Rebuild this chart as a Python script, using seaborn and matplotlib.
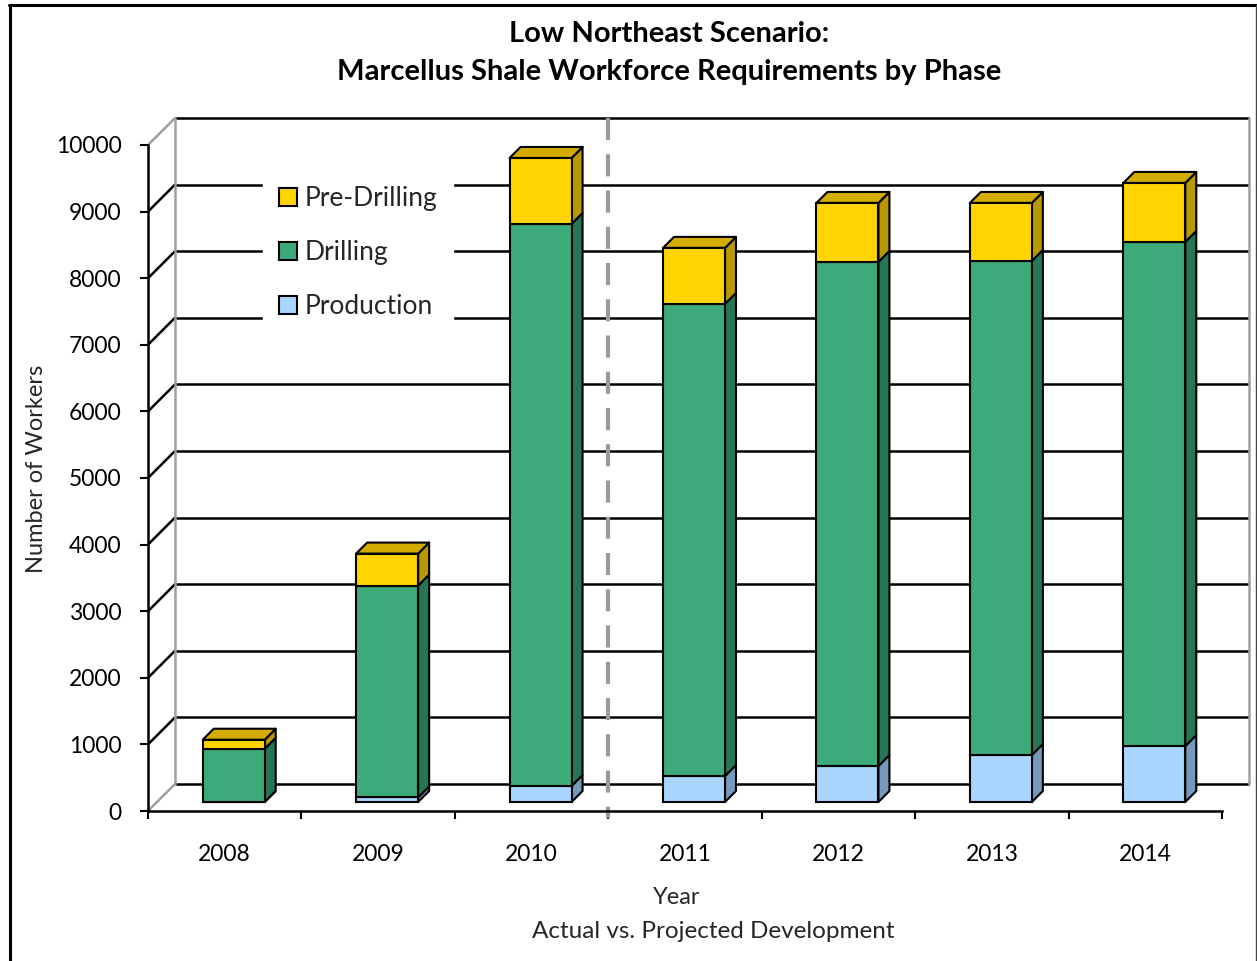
import numpy as np
import pandas as pd
import matplotlib
matplotlib.use("Agg")
import matplotlib.pyplot as plt
import seaborn as sns
from matplotlib.patches import Polygon, Patch
from matplotlib.lines import Line2D

# ---- data -------------------------------------------------------------
years = ["2008", "2009", "2010", "2011", "2012", "2013", "2014"]
production = [0, 70, 240, 390, 540, 705, 840]
drilling = [800, 3180, 8440, 7090, 7570, 7420, 7570]
pre_drilling = [135, 480, 990, 840, 885, 870, 885]
y_ticks = list(range(0, 10001, 1000))

legend_order = ["Pre-Drilling", "Drilling", "Production"]
stack_order = ["Production", "Drilling", "Pre-Drilling"]
front_colors = {"Pre-Drilling": "#FFD400", "Drilling": "#3DAA79", "Production": "#A9D5FF"}
side_colors = {"Pre-Drilling": "#B99700", "Drilling": "#267656", "Production": "#7599BA"}
top_color = "#D4AC00"
wall_gray = "#A0A0A0"

df = pd.DataFrame({"Year": years, "Production": production,
                   "Drilling": drilling, "Pre-Drilling": pre_drilling})

sns.set_theme(style="white")
plt.rcParams["font.family"] = ["Lato", "DejaVu Sans"]

W, H = 1257, 961
fig = plt.figure(figsize=(W / 100, H / 100), dpi=100)
fig.patch.set_facecolor("white")

# front plane: x=-0.5 sits at pixel 148, value 0 at pixel 811
px_left, px_zero, ppx, ppy = 148, 811, 153.43, 0.0666
xlim = (-0.5, 6.7)
ylim = (-250, 10500)
ax_l = px_left
ax_r = px_left + (xlim[1] - xlim[0]) * ppx
ax_b = px_zero - ylim[0] * ppy
ax_t = px_zero - ylim[1] * ppy
ax = fig.add_axes([ax_l / W, 1 - ax_b / H, (ax_r - ax_l) / W, (ax_b - ax_t) / H])
ax.set_facecolor("none")

# oblique projection offsets (data units)
DX, DY = 27 / ppx, 27 / ppy          # full depth of the chart box
FDX, FDY = 9 / ppx, 9 / ppy          # bar front plane
SDX, SDY = 11 / ppx, 11 / ppy        # bar depth
x_front_l, x_front_r = -0.5, 6.5

# back wall gridlines
for v in y_ticks:
    ax.plot([x_front_l + DX, x_front_r + DX], [v + DY, v + DY],
            color="black", lw=1.8, zorder=1, solid_capstyle="butt")
# left wall diagonals
for v in y_ticks:
    c = wall_gray if v in (0, 10000) else "black"
    ax.plot([x_front_l, x_front_l + DX], [v, v + DY], color=c, lw=1.8, zorder=1)
# back wall vertical edges
for xe in (x_front_l + DX, x_front_r + DX):
    ax.plot([xe, xe], [DY, y_ticks[-1] + DY], color=wall_gray, lw=1.8, zorder=1)

# dashed divider between actual and projected years
ax.plot([2.5, 2.5], [y_ticks[-1] + DY, -105], color="#9A9A9A", lw=3,
        dashes=(5.3, 3.4), zorder=2, solid_capstyle="butt")

# ---- stacked bars (front faces via seaborn) ---------------------------
bar_width = 0.404
cum = np.zeros(len(years))
segments = {}
for name in stack_order:
    vals = df[name].to_numpy(dtype=float)
    before = len(ax.patches)
    sns.barplot(data=df, x="Year", y=name, bottom=cum + FDY, color=front_colors[name],
                saturation=1, width=bar_width, errorbar=None, edgecolor="black",
                linewidth=1.5, zorder=4, ax=ax)
    bars = ax.patches[before:]
    for p in bars:
        p.set_x(p.get_x() + FDX)
    segments[name] = bars
    cum = cum + vals

# side and top faces
for name in stack_order:
    for p in segments[name]:
        x0 = p.get_x()
        x1 = x0 + p.get_width()
        b = p.get_y()
        t = b + p.get_height()
        side = Polygon([(x1, b), (x1 + SDX, b + SDY), (x1 + SDX, t + SDY), (x1, t)],
                       closed=True, facecolor=side_colors[name], edgecolor="black",
                       lw=1.5, zorder=3, joinstyle="round")
        ax.add_patch(side)
        if name == stack_order[-1]:
            top = Polygon([(x0, t), (x1, t), (x1 + SDX, t + SDY), (x0 + SDX, t + SDY)],
                          closed=True, facecolor=top_color, edgecolor="black",
                          lw=1.5, zorder=3, joinstyle="round")
            ax.add_patch(top)

# ---- axes ------------------------------------------------------------
ax.set_xlim(*xlim)
ax.set_ylim(*ylim)
for s in ("top", "right"):
    ax.spines[s].set_visible(False)
ax.spines["left"].set_bounds(0, y_ticks[-1])
ax.spines["left"].set_color("black")
ax.spines["left"].set_linewidth(1.8)
ax.spines["bottom"].set_position(("data", 0))
ax.spines["bottom"].set_bounds(x_front_l, x_front_r)
ax.spines["bottom"].set_color("black")
ax.spines["bottom"].set_linewidth(1.8)

ax.set_yticks(y_ticks, labels=[str(v) for v in y_ticks])
ax.tick_params(axis="y", direction="out", length=6, width=1.5, color="black",
               left=True, labelsize=16.5, pad=13, labelcolor="black")
ax.set_xticks(np.arange(-0.5, len(years), 1.0), labels=[""] * (len(years) + 1))
ax.set_xticks(np.arange(len(years)), labels=years, minor=True)
ax.tick_params(axis="x", which="major", direction="out", length=6, width=1.5,
               color="black", bottom=True)
ax.tick_params(axis="x", which="minor", length=0, labelsize=16.5, pad=24,
               labelcolor="black")
ax.set_xlabel("")
ax.set_ylabel("")
ax.grid(False)

# ---- legend ----------------------------------------------------------
handles = [Patch(facecolor=front_colors[s], edgecolor="black", linewidth=1.5)
           for s in legend_order]
leg = ax.legend(handles, legend_order, loc="upper left",
                bbox_to_anchor=(263 / W, 1 - 170.5 / H), bbox_transform=fig.transFigure,
                fontsize=19, frameon=True, framealpha=1, facecolor="white",
                edgecolor="white", borderpad=0.6, borderaxespad=0,
                handlelength=0.68, handleheight=0.67, handletextpad=0.3,
                labelspacing=1.09, fancybox=False)
leg.set_zorder(6)

# ---- titles and labels ----------------------------------------------
fig.text(669 / W, 1 - 34 / H, "Low Northeast Scenario:", ha="center", va="center",
         fontsize=21, fontweight="bold", color="black")
fig.text(669 / W, 1 - 72 / H, "Marcellus Shale Workforce Requirements by Phase",
         ha="center", va="center", fontsize=21, fontweight="bold", color="black")
fig.text(677 / W, 1 - 897 / H, "Year", ha="center", va="center", fontsize=17)
fig.text(713 / W, 1 - 932 / H, "Actual vs. Projected Development", ha="center",
         va="center", fontsize=17.5)
fig.text(37 / W, 1 - 469 / H, "Number of Workers", ha="center", va="center",
         rotation=90, fontsize=17)

# outer frame
fig.add_artist(Line2D([9.5 / W, 9.5 / W], [0, 1 - 4.5 / H], transform=fig.transFigure,
                      color="black", lw=2.2))
fig.add_artist(Line2D([8.5 / W, 1256 / W], [1 - 4.5 / H, 1 - 4.5 / H],
                      transform=fig.transFigure, color="black", lw=2.2))
fig.add_artist(Line2D([1255.5 / W, 1255.5 / W], [0, 1 - 4.5 / H],
                      transform=fig.transFigure, color="#444444", lw=1.0))

fig.savefig("out.png", dpi=100, facecolor="white")
